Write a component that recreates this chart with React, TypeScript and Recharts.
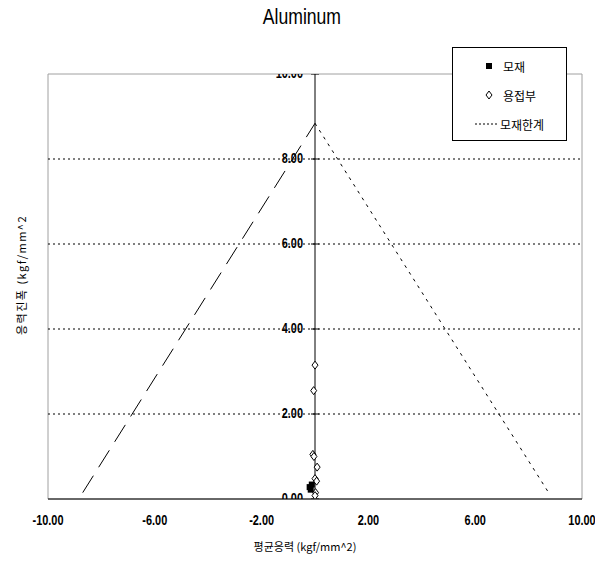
import React from 'react';
import {
  ScatterChart, Scatter, XAxis, YAxis, ReferenceLine, ReferenceArea, Legend,
} from 'recharts';

// 데이터
const TITLE = 'Aluminum';
const X_TICKS = [-10, -6, -2, 2, 6, 10];
const Y_TICKS = [0, 2, 4, 6, 8, 10];
const GRID_Y = [2, 4, 6, 8];
const X_LABEL = '평균응력 (kgf/mm^2)';
const Y_LABEL = '응력진폭 (kgf/mm^2';

// 모재
const baseMetal = [
  { x: -0.2, y: 0.28 },
  { x: -0.12, y: 0.34 },
  { x: -0.16, y: 0.22 },
];

// 용접부
const weldZone = [
  { x: 0.0, y: 3.15 },
  { x: -0.05, y: 2.55 },
  { x: -0.08, y: 1.05 },
  { x: -0.04, y: 1.0 },
  { x: 0.08, y: 0.75 },
  { x: 0.0, y: 0.48 },
  { x: 0.06, y: 0.42 },
  { x: 0.02, y: 0.15 },
  { x: 0.0, y: 0.08 },
];

// 모재한계 (오른쪽 점선) / 왼쪽 긴 파선
const limitRight = [
  { x: 0.0, y: 8.84 },
  { x: 8.8, y: 0.1 },
];
const limitLeft = [
  { x: -8.7, y: 0.15 },
  { x: 0.0, y: 8.84 },
];

const legendItems = [
  { name: '모재', kind: 'square' },
  { name: '용접부', kind: 'diamond' },
  { name: '모재한계', kind: 'dash' },
];

const sans = '"Liberation Sans", Arial, sans-serif';
const korean = '"Noto Sans CJK KR", sans-serif';

// 좁은 글꼴 대신 가로로 눌러서 그림
const NarrowText = ({ x, y, anchor, children }: any) => (
  <g transform={`translate(${x} ${y}) scale(0.78 1)`}>
    <text
      x={0}
      y={0}
      textAnchor={anchor}
      dominantBaseline="central"
      fontFamily={sans}
      fontWeight="bold"
      fontSize={14}
      fill="#000"
    >
      {children}
    </text>
  </g>
);

const XTick = (props: any) => {
  const { x, y, payload } = props;
  return <NarrowText x={x} y={y + 14} anchor="middle">{Number(payload.value).toFixed(2)}</NarrowText>;
};

const SquareDot = (props: any) => {
  const { cx, cy } = props;
  return <rect x={cx - 3} y={cy - 3} width={6} height={6} fill="#000" />;
};

const DiamondDot = (props: any) => {
  const { cx, cy } = props;
  return (
    <polygon
      points={`${cx},${cy - 4} ${cx + 3},${cy} ${cx},${cy + 4} ${cx - 3},${cy}`}
      fill="#fff"
      stroke="#000"
      strokeWidth={1}
    />
  );
};

// y축 눈금 라벨 (x = 0 위치의 세로축에 붙음)
const YTickMark = (props: any) => {
  const { cx, cy, payload } = props;
  return (
    <g>
      <line x1={cx - 4} x2={cx + 4} y1={cy} y2={cy} stroke="#000" />
      <NarrowText x={cx - 12} y={cy} anchor="end">{payload.y.toFixed(2)}</NarrowText>
    </g>
  );
};

const LegendBox = () => (
  <div
    style={{
      width: 113,
      height: 92,
      border: '1px solid #000',
      background: '#fff',
      fontFamily: korean,
      fontSize: 12,
      position: 'relative',
    }}
  >
    {legendItems.map((item, i) => (
      <div
        key={item.name}
        style={{ position: 'absolute', top: 10 + i * 29, left: 0, display: 'flex', alignItems: 'center', height: 16 }}
      >
        <svg width={50} height={16} style={{ display: 'block' }}>
          {item.kind === 'square' && <rect x={33} y={5} width={6} height={6} fill="#000" />}
          {item.kind === 'diamond' && (
            <polygon points="36,4 39,8 36,12 33,8" fill="#fff" stroke="#000" />
          )}
          {item.kind === 'dash' && (
            <line x1={22} x2={46} y1={8} y2={8} stroke="#000" strokeDasharray="2 2" />
          )}
        </svg>
        <span style={{ marginLeft: item.kind === 'dash' ? -3 : 0 }}>{item.name}</span>
      </div>
    ))}
  </div>
);

export default function App() {
  return (
    <div style={{ position: 'relative', width: 603, height: 562, margin: -8, background: '#fff' }}>
      <div
        style={{
          position: 'absolute', top: 4, left: 0, width: 603, textAlign: 'center',
          fontFamily: sans, fontSize: 22, fontWeight: 300,
        }}
      >
        <span style={{ display: 'inline-block', transform: 'scaleX(0.8)' }}>{TITLE}</span>
      </div>
      <ScatterChart width={603} height={562} margin={{ top: 74, right: 21, bottom: 33, left: 0 }}>
        <XAxis
          type="number"
          dataKey="x"
          domain={[-10, 10]}
          ticks={X_TICKS}
          tick={<XTick />}
          tickLine={false}
          axisLine={{ stroke: '#000' }}
          height={30}
          allowDataOverflow
          label={{ value: X_LABEL, position: 'bottom', offset: 14, dx: -10, fontSize: 11, fontFamily: korean, fill: '#000' }}
        />
        <YAxis
          type="number"
          dataKey="y"
          domain={[0, 10]}
          width={48}
          tick={false}
          tickLine={false}
          axisLine={false}
          allowDataOverflow
          label={{
            content: ({ viewBox }: any) => {
              const cx = viewBox.x + 21;
              const cy = 275;
              return (
                <text
                  x={cx}
                  y={cy}
                  transform={`rotate(-90 ${cx} ${cy})`}
                  textAnchor="middle"
                  dominantBaseline="central"
                  fontFamily={korean}
                  fontSize={11}
                  letterSpacing={1.5}
                  fill="#000"
                >
                  {Y_LABEL}
                </text>
              );
            },
          }}
        />
        <ReferenceArea x1={-10} x2={10} y1={0} y2={10} fill="none" stroke="#a0a0a0" />
        {GRID_Y.map((v) => (
          <ReferenceLine key={v} y={v} stroke="#000" strokeDasharray="2 3" />
        ))}
        <ReferenceLine x={0} stroke="#000" />
        <Legend
          layout="vertical"
          align="center"
          verticalAlign="middle"
          wrapperStyle={{ left: 452, top: 47, width: 115, height: 94 }}
          content={() => <LegendBox />}
        />
        <Scatter
          name="left"
          data={limitLeft}
          line={{ stroke: '#000', strokeWidth: 1, strokeDasharray: '20 10' }}
          shape={() => <g />}
          legendType="none"
          isAnimationActive={false}
        />
        <Scatter
          name="모재한계"
          data={limitRight}
          line={{ stroke: '#000', strokeWidth: 1, strokeDasharray: '3 5' }}
          shape={() => <g />}
          isAnimationActive={false}
        />
        <Scatter name="ticks" data={Y_TICKS.map((y) => ({ x: 0, y }))} shape={YTickMark} legendType="none" isAnimationActive={false} />
        <Scatter name="용접부" data={weldZone} shape={DiamondDot} isAnimationActive={false} />
        <Scatter name="모재" data={baseMetal} shape={SquareDot} isAnimationActive={false} />
      </ScatterChart>
    </div>
  );
}
